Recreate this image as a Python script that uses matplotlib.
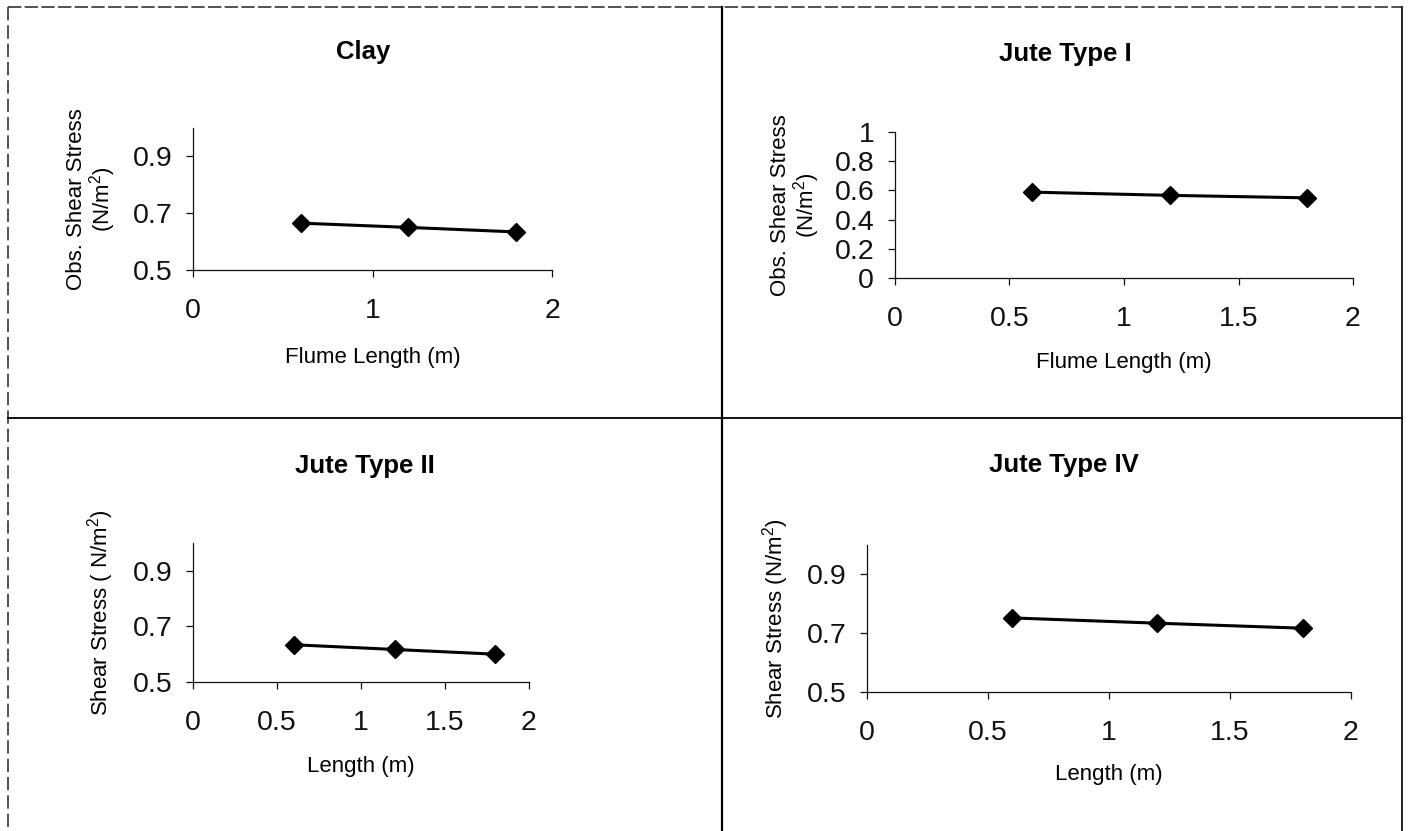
import matplotlib
matplotlib.use("Agg")
import matplotlib.pyplot as plt
from matplotlib.lines import Line2D
from matplotlib.ticker import FuncFormatter

plt.rcParams['font.family'] = ['Liberation Sans', 'DejaVu Sans']
plt.rcParams['mathtext.default'] = 'regular'

# Flume positions where shear stress was measured (m)
lengths = [0.6, 1.2, 1.8]

# Observed shear stress (N/m^2) for each bed lining
clay = [0.665, 0.650, 0.634]
jute_1 = [0.588, 0.566, 0.549]
jute_2 = [0.634, 0.617, 0.600]
jute_4 = [0.752, 0.734, 0.717]

titles = ["Clay", "Jute Type I", "Jute Type II", "Jute Type IV"]
xlabels = ["Flume Length (m)", "Flume Length (m)", "Length (m)", "Length (m)"]
ylabels = ["Obs. Shear Stress\n(N/m$^2$)", "Obs. Shear Stress\n(N/m$^2$)",
           "Shear Stress ( N/m$^2$)", "Shear Stress (N/m$^2$)"]
xticks_clay = [0, 1, 2]
xticks_half = [0, 0.5, 1, 1.5, 2]
yticks_short = [0.5, 0.7, 0.9]
yticks_full = [0, 0.2, 0.4, 0.6, 0.8, 1]

W, H = 1412, 831
fig = plt.figure(figsize=(W / 100, H / 100), dpi=100)


def rect(x0, y0, x1, y1):
    """Pixel box (left, top, right, bottom) -> figure fraction rect."""
    return [x0 / W, 1 - y1 / H, (x1 - x0) / W, (y1 - y0) / H]


fmt = FuncFormatter(lambda v, p: f"{v:g}")

panels = [
    dict(box=(193, 128, 552, 270), y=clay, ylim=(0.5, 1.0), yt=yticks_short,
         xt=xticks_clay, title_xy=(363, 59), ylab_x=-0.209, xlab_y=-0.54),
    dict(box=(895, 132, 1353, 278), y=jute_1, ylim=(0.0, 1.0), yt=yticks_full,
         xt=xticks_half, title_xy=(1065, 61), ylab_x=-0.159, xlab_y=-0.51),
    dict(box=(193, 543, 529, 682), y=jute_2, ylim=(0.5, 1.0), yt=yticks_short,
         xt=xticks_half, title_xy=(365, 473), ylab_x=-0.23, xlab_y=-0.53),
    dict(box=(867, 545, 1351, 692), y=jute_4, ylim=(0.5, 1.0), yt=yticks_short,
         xt=xticks_half, title_xy=(1064, 472), ylab_x=-0.157, xlab_y=-0.49),
]

for i, p in enumerate(panels):
    ax = fig.add_axes(rect(*p['box']))
    ax.plot(lengths, p['y'], color='black', lw=2.2, marker='D',
            markersize=9.5, markerfacecolor='black', markeredgecolor='black',
            clip_on=False)
    ax.set_xlim(0, 2)
    ax.set_ylim(*p['ylim'])
    ax.set_xticks(p['xt'])
    ax.set_yticks(p['yt'])
    ax.xaxis.set_major_formatter(fmt)
    ax.yaxis.set_major_formatter(fmt)
    for s in ('top', 'right'):
        ax.spines[s].set_visible(False)
    for s in ('left', 'bottom'):
        ax.spines[s].set_linewidth(0.9)
        ax.spines[s].set_color('#111111')
    ax.tick_params(axis='both', direction='out', length=5, width=0.9,
                   labelsize=20.5, colors='#111111')
    ax.tick_params(axis='x', pad=15)
    ax.tick_params(axis='y', pad=10)
    ax.set_xlabel(xlabels[i], fontsize=16)
    ax.xaxis.set_label_coords(0.5, p['xlab_y'])
    ax.set_ylabel(ylabels[i], fontsize=16, linespacing=1.0)
    ax.yaxis.set_label_coords(p['ylab_x'], 0.5)
    tx, ty = p['title_xy']
    fig.text(tx / W, 1 - ty / H, titles[i], ha='center', va='baseline',
             fontsize=18.5, fontweight='bold')

# Panel frame lines
def hline(y, x0, x1, **kw):
    fig.add_artist(Line2D([x0 / W, x1 / W], [1 - y / H, 1 - y / H], **kw))


def vline(x, y0, y1, **kw):
    fig.add_artist(Line2D([x / W, x / W], [1 - y0 / H, 1 - y1 / H], **kw))


hline(7, 8, 1402, color='#333333', lw=1.2, ls=(0, (8, 2)))
vline(8, 7, 831, color='#333333', lw=1.2, ls=(0, (8, 3)))
vline(1402, 7, 831, color='#222222', lw=1.4)
vline(722, 7, 831, color='black', lw=1.6)
hline(418, 8, 1402, color='black', lw=1.3)

fig.savefig("out.png", dpi=100)
